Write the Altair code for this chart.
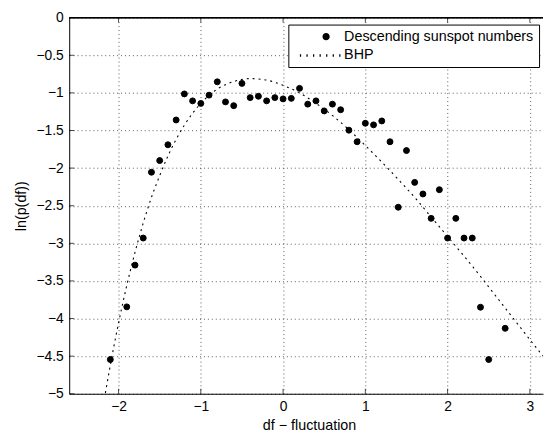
import altair as alt
import pandas as pd

DESC = "Descending sunspot numbers"
BHP = "BHP"

# observed points (df fluctuation, ln p)
obs_x = [-2.1, -1.9, -1.8, -1.7, -1.6, -1.5, -1.4, -1.3, -1.2, -1.1, -1.0, -0.9,
         -0.8, -0.7, -0.6, -0.5, -0.4, -0.3, -0.2, -0.1, 0.0, 0.1, 0.2, 0.3, 0.4,
         0.5, 0.6, 0.7, 0.8, 0.9, 1.0, 1.1, 1.2, 1.3, 1.4, 1.5, 1.6, 1.7, 1.8, 1.9,
         2.0, 2.1, 2.2, 2.3, 2.4, 2.5, 2.7]
obs_y = [-4.545, -3.845, -3.29, -2.93, -2.055, -1.90, -1.69, -1.36, -1.014, -1.106,
         -1.14, -1.03, -0.853, -1.12, -1.17, -0.874, -1.063, -1.045, -1.106, -1.063,
         -1.08, -1.073, -0.94, -1.15, -1.106, -1.24, -1.15, -1.224, -1.496, -1.65,
         -1.404, -1.425, -1.373, -1.65, -2.52, -1.767, -2.19, -2.344, -2.668, -2.287,
         -2.93, -2.668, -2.93, -2.93, -3.85, -4.545, -4.13]

# BHP curve
bhp_x = [-2.16, -2.1, -2.0, -1.9, -1.8, -1.7, -1.6, -1.5, -1.4, -1.2, -1.0, -0.8,
         -0.6, -0.4, -0.2, 0.0, 0.2, 0.4, 0.6, 0.8, 1.0, 1.2, 1.4, 1.6, 1.8, 2.0,
         2.2, 2.4, 2.6, 2.8, 3.0, 3.16]
bhp_y = [-4.99, -4.62, -4.06, -3.56, -3.12, -2.73, -2.39, -2.10, -1.84, -1.43,
         -1.14, -0.95, -0.85, -0.81, -0.83, -0.90, -1.00, -1.14, -1.30, -1.49,
         -1.70, -1.92, -2.15, -2.39, -2.65, -2.91, -3.17, -3.44, -3.72, -4.00,
         -4.28, -4.50]

x_ticks = [-2, -1, 0, 1, 2, 3]
y_ticks = [-5, -4.5, -4, -3.5, -3, -2.5, -2, -1.5, -1, -0.5, 0]

W, H = 480, 381
FONT = "Liberation Sans"
PT = "_pt"  # shape key for the plotted points (plain circle)

pts = pd.DataFrame({"x": obs_x, "y": obs_y, "series": PT})
curve = pd.DataFrame({"x": bhp_x, "y": bhp_y})
xt = pd.DataFrame({"v": x_ticks})
yt = pd.DataFrame({"v": y_ticks})

xs = alt.Scale(domain=[-2.6, 3.16], nice=False, zero=False)
ys = alt.Scale(domain=[-5, 0], nice=False, zero=False)

xaxis = alt.Axis(values=x_ticks, format="~g", title="df \u2212 fluctuation",
                 grid=True, titleX=243, labelOverlap=False)
yaxis = alt.Axis(values=y_ticks, format="~g", title="ln(p(df))", grid=True,
                 labelOverlap=False)

# legend symbols as paths sharing the same bounding box (units = sqrt(size)/2 px)
BOUNDS = "M-6.5,-0.4L-6.5,-0.4M6.5,0.4L6.5,0.4"
dots = [-6.3, -4.2, -2.1, 0.0, 2.1, 4.2, 6.3]
DOTPATH = BOUNDS + "".join(f"M{d - 0.2:.2f},-0.4h0.4v0.8h-0.4Z" for d in dots)
cx, r = 1.9, 1.15
CIRCLEPATH = BOUNDS + (f"M{cx - r:.2f},0A{r},{r} 0 1,0 {cx + r:.2f},0"
                       f"A{r},{r} 0 1,0 {cx - r:.2f},0Z")

curve_layer = alt.Chart(curve).mark_line(
    color="black", strokeWidth=1.1, strokeDash=[2, 4], interpolate="monotone", clip=True
).encode(
    x=alt.X("x:Q", scale=xs, axis=xaxis),
    y=alt.Y("y:Q", scale=ys, axis=yaxis),
)

point_layer = alt.Chart(pts).mark_point(
    filled=True, size=36, opacity=1, color="black", stroke="black", strokeWidth=1
).encode(
    x=alt.X("x:Q", scale=xs, axis=xaxis),
    y=alt.Y("y:Q", scale=ys, axis=yaxis),
    shape=alt.Shape(
        "series:N",
        scale=alt.Scale(domain=[DESC, BHP, PT], range=[CIRCLEPATH, DOTPATH, "circle"]),
        legend=alt.Legend(
            title=None, orient="none", legendX=222, legendY=7,
            values=[DESC, BHP],
            fillColor="white", strokeColor="black", padding=5, rowPadding=4,
            symbolSize=40, symbolOffset=20, labelOffset=17,
            symbolFillColor="black", symbolStrokeColor="black", symbolStrokeWidth=0,
            labelFont=FONT, labelFontSize=14.5, labelColor="black", labelLimit=400,
        ),
    ),
)

bottom_ticks = alt.Chart(xt).mark_tick(color="black", size=5, thickness=1).encode(
    x=alt.X("v:Q", scale=xs, axis=xaxis), y=alt.value(H - 2.5))
top_ticks = alt.Chart(xt).mark_tick(color="black", size=5, thickness=1).encode(
    x=alt.X("v:Q", scale=xs, axis=xaxis), y=alt.value(2.5))
left_ticks = alt.Chart(yt).mark_tick(color="black", size=5, thickness=1).encode(
    y=alt.Y("v:Q", scale=ys, axis=yaxis), x=alt.value(2.5))
top_border = alt.Chart(xt).mark_rule(color="black", strokeWidth=1).encode(
    x=alt.value(0), x2=alt.value(W), y=alt.value(0))

chart = alt.layer(
    curve_layer, point_layer, bottom_ticks, top_ticks, left_ticks, top_border
).properties(
    width=W, height=H, padding={"left": 5, "top": 0, "right": 0, "bottom": 0}
).configure_view(stroke=None).configure_axis(
    labelFont=FONT, labelFontSize=14, labelColor="black",
    titleFont=FONT, titleFontSize=14.5, titleFontWeight="normal", titleColor="black",
    domainColor="black", domainWidth=1, tickSize=0, labelPadding=6,
    gridColor="#333", gridDash=[1, 3], gridWidth=0.8,
).configure_axisX(titlePadding=5).configure_axisY(titlePadding=8)

chart.save("out.html", embed_options={"renderer": "svg", "actions": False})
